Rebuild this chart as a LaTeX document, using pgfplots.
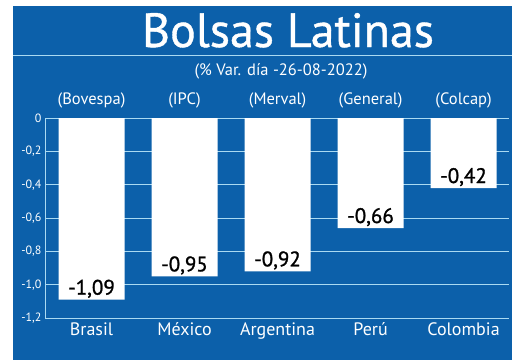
\documentclass[border=0pt]{standalone}
\usepackage{pgfplots}
\pgfplotsset{compat=1.18}
\usepackage{fontspec}
\setmainfont{PT Sans}
\newfontface\semib[FakeBold=1.2]{PT Sans}
\newfontface\titlef[FakeBold=0.8]{PT Sans}
\definecolor{bgblue}{RGB}{12,96,170}
\definecolor{gridc}{RGB}{170,218,242}
\begin{document}
\begin{tikzpicture}
\path[use as bounding box] (0,0) rectangle (520bp,-364bp);
\fill[white] (0,0) rectangle (520bp,-364bp);
\fill[bgblue] (13bp,-6bp) rectangle (512bp,-360bp);
\draw[gridc, line width=1bp] (13bp,-55bp) -- (512bp,-55bp);
\node[white, font=\titlef\fontsize{48bp}{50bp}\selectfont, anchor=base] at (288bp,-47bp) {Bolsas Latinas};
\node[white, font=\fontsize{16.5bp}{18bp}\selectfont] at (281bp,-71bp) {(\% Var. día -26-08-2022)};
\begin{axis}[
  at={(45bp,-318bp)}, anchor=south west,
  scale only axis, width=464bp, height=200bp,
  xmin=-0.5, xmax=4.489, ymin=-1.2, ymax=0,
  axis lines*=left,
  axis line style={draw=gridc, line width=1bp},
  ymajorgrids, grid style={draw=gridc, line width=1bp},
  ytick={-1.2,-1,-0.8,-0.6,-0.4,-0.2,0},
  yticklabels={{-1,2},{-1,0},{-0,8},{-0,6},{-0,4},{-0,2},{0}},
  xtick={0,1,2,3,4},
  xticklabels={Brasil,México,Argentina,Perú,Colombia},
  major tick length=0pt,
  yticklabel style={white, font=\fontsize{12bp}{14bp}\selectfont},
  xticklabel style={white, font=\fontsize{18bp}{20bp}\selectfont, yshift=-1bp},
  clip=false,
]
\addplot[ybar, bar width=66bp, fill=white, draw=none] coordinates {
  (0,-1.09) (1,-0.95) (2,-0.92) (3,-0.66) (4,-0.42)
};
\foreach \i/\v/\t in {0/-1.09/{-1,09},1/-0.95/{-0,95},2/-0.92/{-0,92},3/-0.66/{-0,66},4/-0.42/{-0,42}} {
  \edef\tmp{\noexpand\node[black, anchor=base, font=\noexpand\semib\noexpand\fontsize{21bp}{23bp}\noexpand\selectfont] at (axis cs:\i,\v) [yshift=5bp] {\t};}
  \tmp
}
\foreach \i/\t in {0/(Bovespa),1/(IPC),2/(Merval),3/(General),4/(Colcap)} {
  \edef\tmp{\noexpand\node[white, font=\noexpand\fontsize{16.5bp}{18bp}\noexpand\selectfont] at (axis cs:\i,0) [yshift=18bp] {\t};}
  \tmp
}
\end{axis}
\end{tikzpicture}
\end{document}
